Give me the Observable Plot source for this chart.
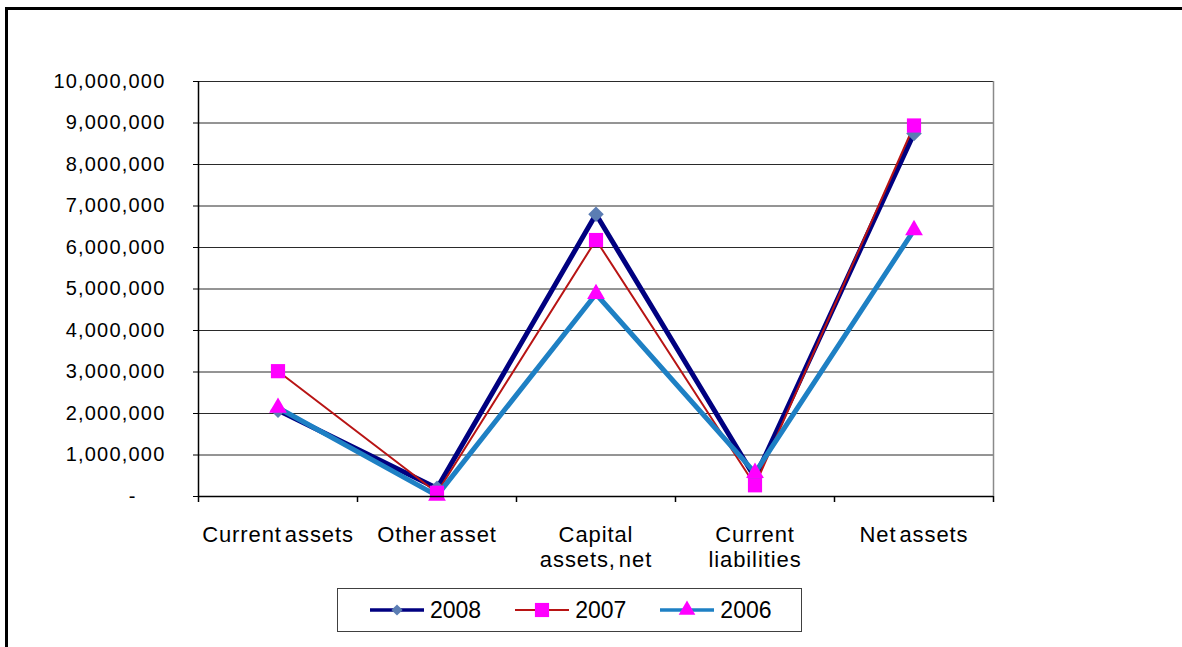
<!DOCTYPE html>
<html><head><meta charset="utf-8">
<script src="https://cdn.jsdelivr.net/npm/d3@7"></script>
<script src="https://cdn.jsdelivr.net/npm/@observablehq/plot@0.6"></script>
<style>
html,body{margin:0;padding:0;background:#fff;width:1182px;height:647px;overflow:hidden;font-family:"Liberation Sans",Arial,sans-serif;}
#frame{position:absolute;left:5px;top:7px;width:1400px;height:800px;border:3px solid #000;box-sizing:border-box}
#chart{position:absolute;left:0;top:0}
#legend{position:absolute;left:337px;top:588px;width:465px;height:44px;border:1px solid #404040;box-sizing:border-box;display:flex;align-items:center;padding-left:32px;font-size:23px;color:#000;background:#fff}
#legend .item{display:flex;align-items:center;margin-right:34px}
#legend svg{margin-right:6px}
g[aria-label="y-axis tick label"] text{letter-spacing:1.2px}
g[aria-label="x-axis tick label"] text{letter-spacing:0.9px;word-spacing:-4px}
</style></head><body>
<div id="frame"></div><div id="chart"></div><div id="legend"></div>
<script>
const categories = ["Current assets", "Other asset", "Capital\nassets, net", "Current\nliabilities", "Net assets"];
const seriesNames = ["2008", "2007", "2006"];
const values2008 = [2080000, 200000, 6800000, 450000, 8750000];
const values2007 = [3020000, 90000, 6180000, 270000, 8940000];
const values2006 = [2140000, 20000, 4880000, 570000, 6420000];
const yTicks = [0, 1000000, 2000000, 3000000, 4000000, 5000000, 6000000, 7000000, 8000000, 9000000, 10000000];
const lineColors = ["#000080", "#B81414", "#1E80C4"];
const lineWidths = [5, 2, 5];
const markerSymbols = ["diamond2", "square", "triangle"];
const markerFills = ["#5B7DB3", "#FF00FF", "#FF00FF"];
const markerR = [7, 8, 6.6];

const seriesValues = [values2008, values2007, values2006];
const rows = [];
seriesNames.forEach((s, k) => seriesValues[k].forEach((v, i) => rows.push({series: s, k, i, cat: categories[i], value: v})));

const idx = categories.map((c, i) => i);
const bounds = d3.range(categories.length + 1).map(i => i - 0.5);
const fmt = d3.format(",");

const marks = [
  Plot.gridY(yTicks.filter(d => d > 0), {stroke: "#2a2a2a", strokeOpacity: 1}),
  Plot.ruleX([bounds[bounds.length - 1]], {stroke: "#8a8a8a", strokeWidth: 1.5}),
];
seriesNames.forEach((s, k) => {
  const data = rows.filter(r => r.k === k);
  marks.push(Plot.line(data, {x: "i", y: "value", stroke: lineColors[k], strokeWidth: lineWidths[k], strokeLinejoin: "miter"}));
});
seriesNames.forEach((s, k) => {
  const data = rows.filter(r => r.k === k);
  marks.push(Plot.dot(data, {x: "i", y: "value", symbol: () => markerSymbols[k], fill: markerFills[k], r: markerR[k], stroke: "none"}));
});
marks.push(
  Plot.ruleX([bounds[0]], {stroke: "#000", strokeWidth: 1.5}),
  Plot.ruleY([0], {stroke: "#000", strokeWidth: 1.5}),
  Plot.axisY(yTicks.filter(d => d > 0), {tickSize: 5, tickPadding: 28, tickFormat: fmt, fontSize: 20, label: null}),
  Plot.axisY([0], {tickSize: 5, tickPadding: 57, tickFormat: () => "-", fontSize: 20, label: null}),
  Plot.axisX(bounds, {tickSize: 6, tickFormat: () => "", strokeWidth: 1.5, label: null}),
  Plot.axisX(idx, {tickSize: 0, tickPadding: 28, tickFormat: i => categories[i], fontSize: 22, lineHeight: 1.14, label: null})
);

const chart = Plot.plot({
  width: 1182,
  height: 600,
  marginLeft: 198,
  marginRight: 189,
  marginTop: 81,
  marginBottom: 104,
  style: {fontFamily: '"Liberation Sans", Arial, sans-serif', background: "transparent", color: "#000"},
  x: {type: "linear", domain: [bounds[0], bounds[bounds.length - 1]], axis: null, label: null},
  y: {type: "linear", domain: [yTicks[0], yTicks[yTicks.length - 1]], axis: null, label: null},
  symbol: {type: "identity"},
  marks
});
document.getElementById("chart").appendChild(chart);

// legend
const legend = d3.select("#legend");
seriesNames.forEach((s, k) => {
  const item = legend.append("div").attr("class", "item");
  const svg = item.append("svg").attr("width", 54).attr("height", 20);
  svg.append("line").attr("x1", 0).attr("x2", 54).attr("y1", 10).attr("y2", 10)
    .attr("stroke", lineColors[k]).attr("stroke-width", k === 1 ? 2 : 3.5);
  const symMap = {diamond2: d3.symbolDiamond2, square: d3.symbolSquare, triangle: d3.symbolTriangle};
  svg.append("path").attr("transform", "translate(27,10)")
    .attr("d", d3.symbol(symMap[markerSymbols[k]], [80, 200, 120][k])())
    .attr("fill", markerFills[k]);
  item.append("span").text(s);
});
</script>
</body></html>
